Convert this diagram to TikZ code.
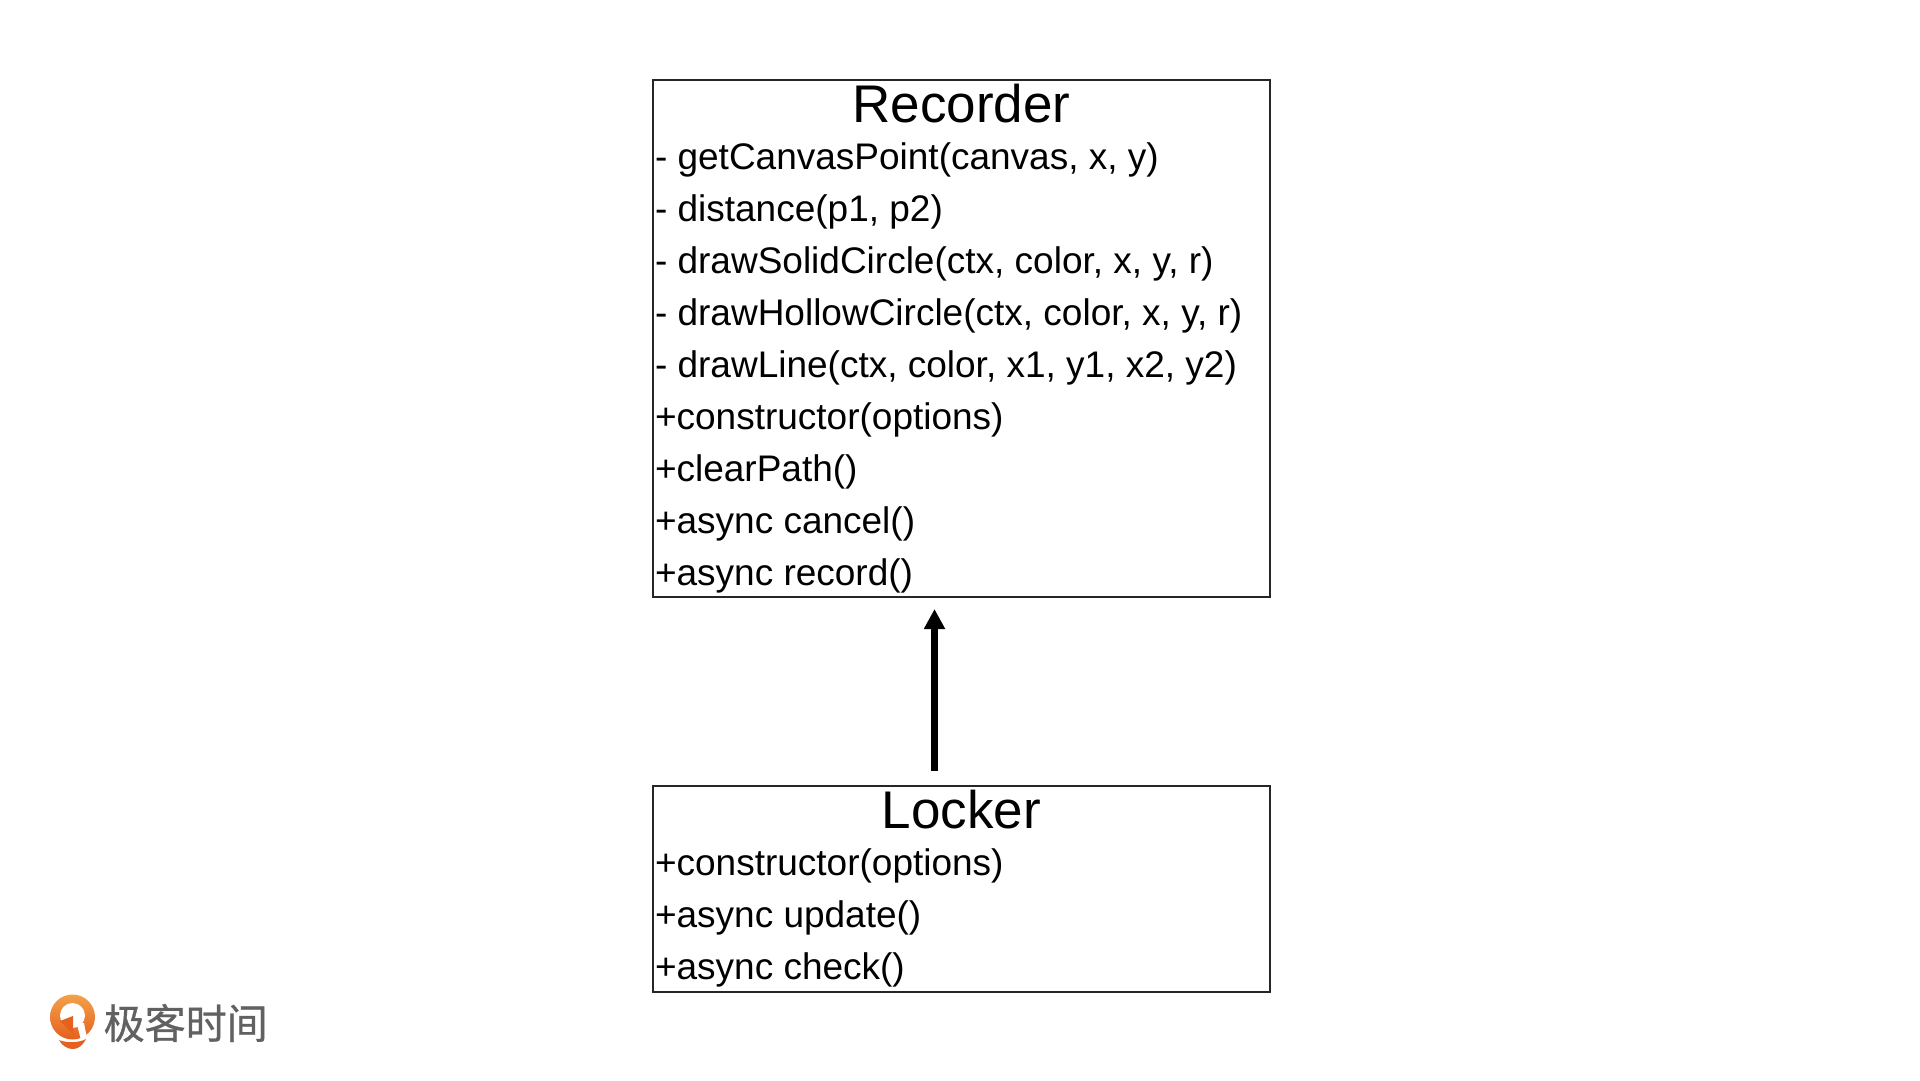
\documentclass[tikz,border=0pt]{standalone}
\usepackage{fontspec}
\setmainfont{Liberation Sans}
\newfontfamily\cjkfont[FakeBold=0.7]{Noto Sans CJK SC}
\usetikzlibrary{positioning}
\usetikzlibrary{arrows.meta}

\definecolor{logolight}{HTML}{F2A24A}
\definecolor{logodark}{HTML}{E6601E}

\begin{document}
\begin{tikzpicture}[
        x=1pt,y=-1pt,
        classbox/.style={draw=black!85,line width=2.2pt,inner sep=0pt,minimum width=617pt},
        title/.style={font=\fontsize{53}{53}\selectfont,inner sep=0pt,text height=38pt,text depth=0pt},
        member/.style={font=\fontsize{37}{37}\selectfont,inner sep=0pt,outer sep=0pt,minimum height=51.9pt,text height=27pt,text depth=8pt}]

    \useasboundingbox (0,0) rectangle (1920,1080);

    \node[classbox,minimum height=517pt] (recorder) at (961.5,338.5) {};
    \node[title,below=5pt of recorder.north] (recordertitle) {Recorder};
    \node[member,anchor=north west] (m1) at (655,134.5) {- getCanvasPoint(canvas, x, y)};
    \node[member,below=0pt of m1.south west,anchor=north west] (m2) {- distance(p1, p2)};
    \node[member,below=0pt of m2.south west,anchor=north west] (m3) {- drawSolidCircle(ctx, color, x, y, r)};
    \node[member,below=0pt of m3.south west,anchor=north west] (m4) {- drawHollowCircle(ctx, color, x, y, r)};
    \node[member,below=0pt of m4.south west,anchor=north west] (m5) {- drawLine(ctx, color, x1, y1, x2, y2)};
    \node[member,below=0pt of m5.south west,anchor=north west] (m6) {+constructor(options)};
    \node[member,below=0pt of m6.south west,anchor=north west] (m7) {+clearPath()};
    \node[member,below=0pt of m7.south west,anchor=north west] (m8) {+async cancel()};
    \node[member,below=0pt of m8.south west,anchor=north west] (m9) {+async record()};

    \node[classbox,minimum height=206pt] (locker) at (961.5,889) {};
    \node[title,below=5pt of locker.north] (lockertitle) {Locker};
    \node[member,anchor=north west] (l1) at (655,840.5) {+constructor(options)};
    \node[member,below=0pt of l1.south west,anchor=north west] (l2) {+async update()};
    \node[member,below=0pt of l2.south west,anchor=north west] (l3) {+async check()};

    % inheritance arrow
    \coordinate (tail) at (934.5,771);
    \coordinate (head) at (934.5,609);
    \draw[line width=7.5pt,-{Triangle[length=20pt,width=20pt]}] (tail) -- (head);

    % logo
    \shade[top color=logolight,bottom color=logodark] (72.5,1017) circle (22.5pt);
    \fill[white] (72.5,1015.5) circle (12.5pt);
    \fill[logodark] (73,1016) -- (60,1021) -- (73,1034) -- cycle;
    \fill[white] (77,1024) -- (84,1023) -- (87,1038) -- (81,1040) -- cycle;
    \fill[logodark] (59,1040) .. controls (66,1043) and (79,1043) .. (86,1039)
        .. controls (82,1047) and (77,1049) .. (72.5,1049)
        .. controls (68,1049) and (62,1046) .. (59,1040);
    \node[anchor=west,inner sep=0pt,text=black!62,font=\cjkfont\fontsize{41}{41}\selectfont] (logotext) at (103.5,1023) {极客时间};
\end{tikzpicture}
\end{document}
